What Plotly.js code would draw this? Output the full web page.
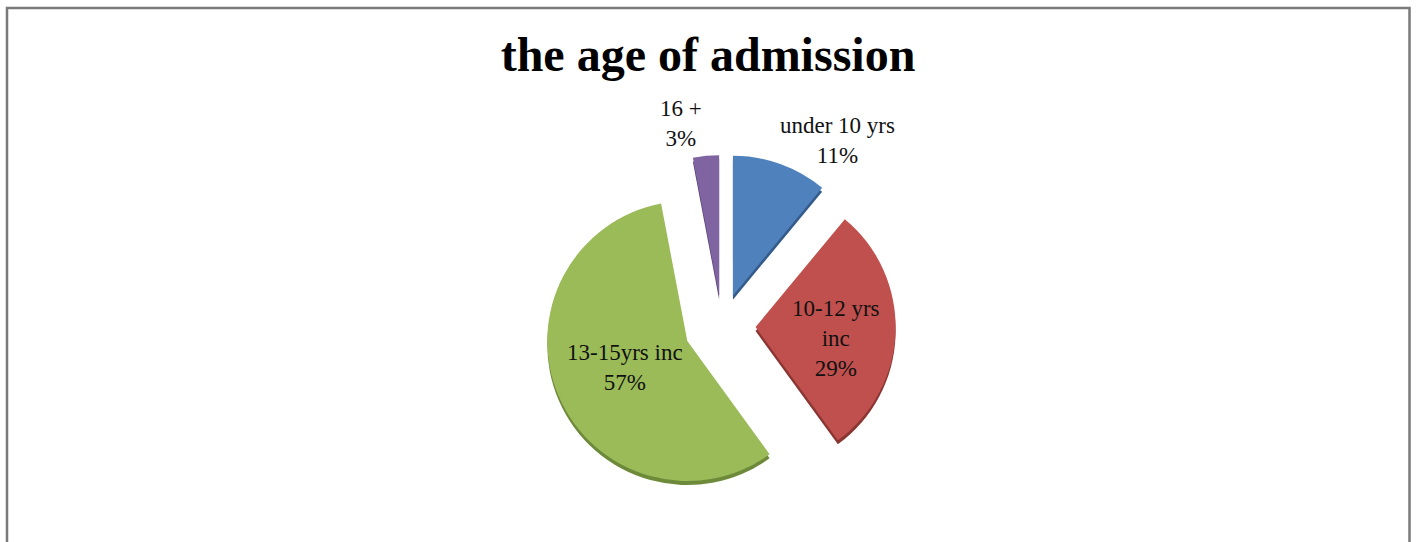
<!DOCTYPE html>
<html>
<head>
<meta charset="utf-8">
<script src="https://cdn.plot.ly/plotly-3.0.1.min.js"></script>
<style>
  html, body { margin: 0; padding: 0; background: #ffffff; }
  #chart { width: 1416px; height: 542px; }
</style>
</head>
<body>
<div id="chart"></div>
<script>
// ---- data ----
const categories = ["under 10 yrs", "10-12 yrs inc", "13-15yrs inc", "16 +"];
const values = [11, 29, 57, 3];
// label text as shown in the chart (line breaks where the original wraps)
const labelLines = [["under 10 yrs"], ["10-12 yrs", "inc"], ["13-15yrs inc"], ["16 +"]];
const chartTitle = "the age of admission";

// ---- styles ----
const colors = ["#4F81BD", "#C0504D", "#9BBB59", "#8064A2"];
const shadeColors = ["#345b8a", "#8a3532", "#6d8a3a", "#5a4578"];
const pulls = [0.23, 0.24, 0.27, 0.22];
const W = 1416, H = 542;
const dom = { x: [544.2 / W, 899.8 / W], y: [38.2 / H, 393.8 / H] };
const shadeDom = { x: dom.x, y: [dom.y[0] - 4 / H, dom.y[1] - 4 / H] };

const total = values.reduce((a, b) => a + b, 0);
const pct = values.map(v => Math.round(100 * v / total) + "%");

const common = {
  type: "pie",
  labels: categories,
  values: values,
  sort: false,
  direction: "clockwise",
  rotation: 0,
  pull: pulls,
  textinfo: "none",
  showlegend: false,
  marker: { line: { width: 0 } }
};

const shade = Object.assign({}, common, {
  domain: shadeDom,
  marker: { colors: shadeColors, line: { width: 0 } },
  hoverinfo: "skip"
});
const main = Object.assign({}, common, {
  domain: dom,
  marker: { colors: colors, line: { width: 0 } },
  hovertemplate: "%{label}: %{percent}<extra></extra>"
});

// label anchor positions (page pixels, text block centres)
const labelPos = [[837, 141], [836, 338], [625, 367], [681, 123]];
const font = { family: "Liberation Serif, Times New Roman, serif", size: 23, color: "#111111" };
const annotations = categories.map((c, i) => ({
  xref: "paper", yref: "paper",
  x: labelPos[i][0] / W, y: 1 - labelPos[i][1] / H,
  xanchor: "center", yanchor: "middle",
  showarrow: false,
  text: labelLines[i].concat([pct[i]]).join("<br>"),
  font: font,
  align: "center"
}));

const layout = {
  width: W, height: H,
  margin: { l: 0, r: 0, t: 0, b: 0 },
  paper_bgcolor: "#ffffff",
  title: {
    text: "<b>" + chartTitle + "</b>",
    x: 708 / W, xanchor: "center",
    y: 1 - 54 / H, yanchor: "middle", yref: "container",
    font: { family: "Liberation Serif, Times New Roman, serif", size: 48, color: "#000000" }
  },
  annotations: annotations,
  shapes: [{
    type: "rect", xref: "paper", yref: "paper",
    x0: 7 / W, x1: 1409.5 / W, y0: -0.05, y1: 1 - 8 / H,
    line: { color: "#7a7a7a", width: 2.5 },
    fillcolor: "rgba(0,0,0,0)"
  }]
};

Plotly.newPlot("chart", [shade, main], layout, { displayModeBar: false, staticPlot: true });
</script>
</body>
</html>
